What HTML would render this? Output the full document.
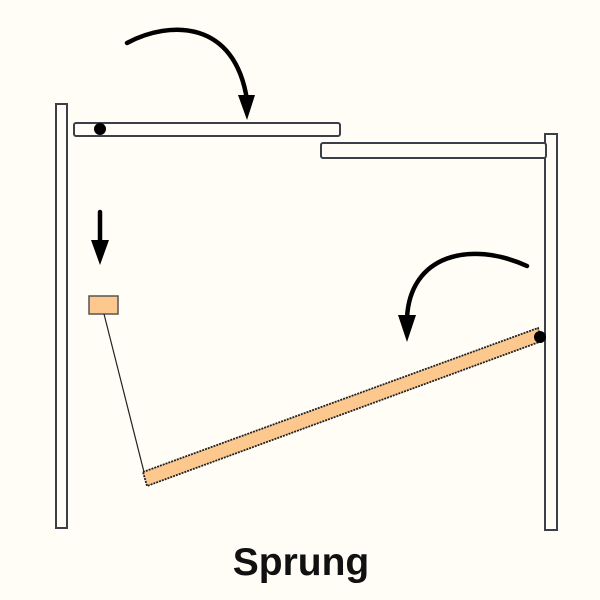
<!DOCTYPE html>
<html><head><style>body{margin:0;background:#fffdf6;}svg{display:block}</style></head><body>
<svg width="600" height="600" viewBox="0 0 600 600" xmlns="http://www.w3.org/2000/svg">
<rect width="600" height="600" fill="#fffdf6"/>
<g stroke="#3a3f48" stroke-width="2" fill="#fffdf6">
<rect x="56" y="104" width="11" height="424"/>
<rect x="545" y="134" width="12" height="396"/>
<rect x="74" y="123" width="266" height="13" rx="2"/>
<rect x="321" y="143" width="225" height="15" rx="2"/>
</g>
<circle cx="100" cy="129" r="6" fill="#000"/>
<rect x="89" y="296" width="29" height="18" fill="#fdc88e" stroke="#555" stroke-width="1.5"/>
<line x1="104" y1="314" x2="145" y2="476" stroke="#222" stroke-width="1.2"/>
<polygon points="143,472 538,328 542,341 147,486" fill="#fdc88e" stroke="#222" stroke-width="1.8" stroke-dasharray="2,1"/>
<circle cx="540" cy="337" r="6" fill="#000"/>
<g fill="none" stroke="#000" stroke-width="4.5" stroke-linecap="round">
<path d="M127,43 C170,20 235,20 247,100"/>
<line x1="100" y1="212" x2="100" y2="245"/>
<path d="M527,266 C470,240 410,255 407,318"/>
</g>
<g fill="#000">
<polygon points="238,95 255,95 247,120"/>
<polygon points="91,240 109,240 100,265"/>
<polygon points="398,315 416,315 407,342"/>
</g>
<text x="301" y="575" text-anchor="middle" font-family="Liberation Sans, sans-serif" font-weight="bold" font-size="39" fill="#111">Sprung</text>
</svg>
</body></html>
